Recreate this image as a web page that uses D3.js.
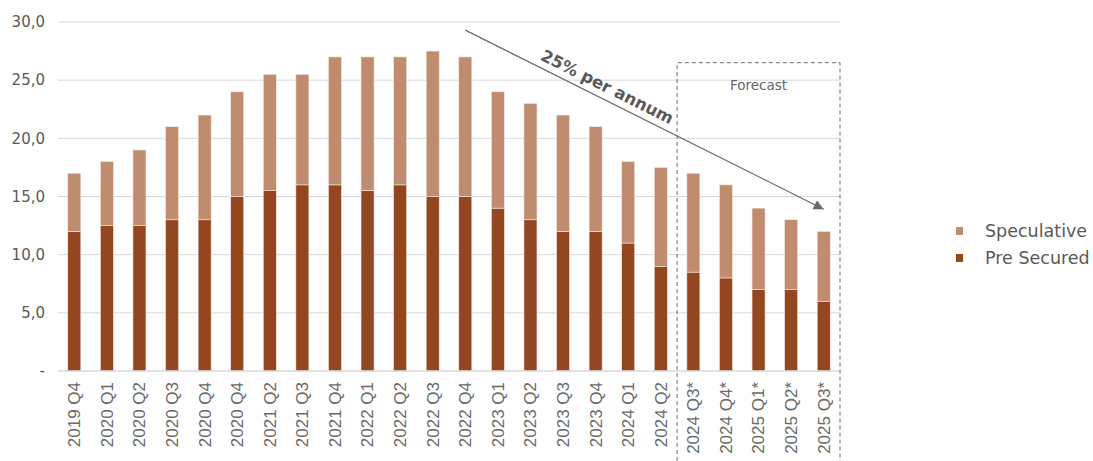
<!DOCTYPE html>
<html>
<head>
<meta charset="utf-8">
<script src="https://cdn.jsdelivr.net/npm/d3@7"></script>
<style>
  body { margin: 0; background: #fff; }
  svg { font-family: "DejaVu Sans", sans-serif; }
</style>
</head>
<body>
<div id="chart"></div>
<script>
// quarters (the 2020 Q4 label really appears twice in the source)
const quarters = ["2019 Q4","2020 Q1","2020 Q2","2020 Q3","2020 Q4","2020 Q4","2021 Q2","2021 Q3",
  "2021 Q4","2022 Q1","2022 Q2","2022 Q3","2022 Q4","2023 Q1","2023 Q2","2023 Q3","2023 Q4",
  "2024 Q1","2024 Q2","2024 Q3*","2024 Q4*","2025 Q1*","2025 Q2*","2025 Q3*"];
const preSecured = [12,12.5,12.5,13,13,15,15.5,16,16,15.5,16,15,15,14,13,12,12,11,9,8.5,8,7,7,6];
const speculative = [5,5.5,6.5,8,9,9,10,9.5,11,11.5,11,12.5,12,10,10,10,9,7,8.5,8.5,8,7,6,6];
const yTicks = [0,5,10,15,20,25,30];
const seriesNames = ["Speculative","Pre Secured"];
const forecastStart = 19;          // first forecast quarter index
const trend = { from: [12, 29.3], to: [23, 13.9], label: "25% per annum" };

const W = 1093, H = 461;
const margin = { left: 58, right: 253, top: 22, bottom: 90 };
const colors = { "Pre Secured": "#944621", "Speculative": "#BF8C6F" };

const svg = d3.select("#chart").append("svg")
    .attr("width", W).attr("height", H);

const x = d3.scaleBand()
    .domain(d3.range(quarters.length))
    .range([margin.left, W - margin.right])
    .paddingInner(0.6).paddingOuter(0.3);

const y = d3.scaleLinear()
    .domain([0, 30])
    .range([H - margin.bottom, margin.top]);

// gridlines
svg.append("g").selectAll("line")
    .data(yTicks.filter(d => d > 0))
    .join("line")
    .attr("x1", margin.left).attr("x2", W - margin.right)
    .attr("y1", d => y(d)).attr("y2", d => y(d))
    .attr("stroke", "#d9d9d9").attr("stroke-width", 1);

// y labels
svg.append("g").selectAll("text")
    .data(yTicks)
    .join("text")
    .attr("x", 45).attr("y", d => y(d))
    .attr("dy", "0.35em")
    .attr("text-anchor", "end")
    .attr("fill", "#595959")
    .style("font-size", "15px")
    .text(d => d === 0 ? "-" : d3.format(".1f")(d).replace(".", ","));

// stacked bars
const rows = quarters.map((q, i) => ({ i, pre: preSecured[i], spec: speculative[i] }));
const stack = d3.stack().keys(["pre", "spec"])(rows);
const keyName = { pre: "Pre Secured", spec: "Speculative" };

svg.append("g").selectAll("g")
    .data(stack)
    .join("g")
    .attr("fill", s => colors[keyName[s.key]])
    .selectAll("rect")
    .data(s => s)
    .join("rect")
    .attr("x", d => x(d.data.i))
    .attr("width", x.bandwidth())
    .attr("y", d => y(d[1]))
    .attr("height", d => y(d[0]) - y(d[1]))
    .attr("stroke", "#f4e9e2")
    .attr("stroke-width", 0.6);

// baseline
svg.append("line")
    .attr("x1", margin.left).attr("x2", W - margin.right)
    .attr("y1", y(0)).attr("y2", y(0))
    .attr("stroke", "#d9d9d9").attr("stroke-width", 1.5);

// x labels
svg.append("g").selectAll("text")
    .data(quarters)
    .join("text")
    .attr("transform", (d, i) => `translate(${x(i) + x.bandwidth() / 2},${y(0) + 11}) rotate(-90)`)
    .attr("text-anchor", "end")
    .attr("dy", "0.35em")
    .attr("fill", "#6a6a6a")
    .style("font-family", "'Liberation Sans', Arial, sans-serif")
    .style("font-size", "17px")
    .text(d => d);

// forecast box
const step = x.step();
const boxLeft = x(forecastStart) - (step - x.bandwidth()) / 2;
const boxRight = W - margin.right;
const boxTop = y(26.5);
svg.append("path")
    .attr("d", `M${boxLeft},${H} V${boxTop} H${boxRight} V${H}`)
    .attr("fill", "none")
    .attr("stroke", "#6b6b6b")
    .attr("stroke-width", 1)
    .attr("stroke-dasharray", "4,3");

svg.append("text")
    .attr("x", (boxLeft + boxRight) / 2)
    .attr("y", boxTop + 27)
    .attr("text-anchor", "middle")
    .attr("fill", "#666")
    .style("font-size", "13.5px")
    .text("Forecast");

// trend arrow
svg.append("defs").append("marker")
    .attr("id", "arrow")
    .attr("viewBox", "0 0 10 10")
    .attr("refX", 10).attr("refY", 5)
    .attr("markerWidth", 10).attr("markerHeight", 10)
    .attr("markerUnits", "userSpaceOnUse")
    .attr("orient", "auto")
    .append("path")
    .attr("d", "M0,0 L10,5 L0,10 z")
    .attr("fill", "#6b6b6b");

const ax1 = x(trend.from[0]) + x.bandwidth() / 2, ay1 = y(trend.from[1]);
const ax2 = x(trend.to[0]) + x.bandwidth() / 2, ay2 = y(trend.to[1]);
svg.append("line")
    .attr("x1", ax1).attr("y1", ay1)
    .attr("x2", ax2).attr("y2", ay2)
    .attr("stroke", "#6b6b6b").attr("stroke-width", 1.2)
    .attr("marker-end", "url(#arrow)");

const angle = Math.atan2(ay2 - ay1, ax2 - ax1) * 180 / Math.PI;
const t = 0.38;
svg.append("text")
    .attr("transform", `translate(${ax1 + (ax2 - ax1) * t},${ay1 + (ay2 - ay1) * t}) rotate(${angle}) translate(0,-7)`)
    .attr("text-anchor", "middle")
    .attr("fill", "#595959")
    .style("font-size", "16.5px")
    .style("font-weight", "bold")
    .text(trend.label);

// legend
const legend = svg.append("g").selectAll("g")
    .data(seriesNames)
    .join("g")
    .attr("transform", (d, i) => `translate(956,${231 + i * 27})`);

legend.append("rect")
    .attr("width", 7).attr("height", 8)
    .attr("y", -4)
    .attr("fill", d => colors[d]);

legend.append("text")
    .attr("x", 29).attr("dy", "0.35em")
    .attr("fill", "#595959")
    .style("font-size", "17.5px")
    .text(d => d);
</script>
</body>
</html>
